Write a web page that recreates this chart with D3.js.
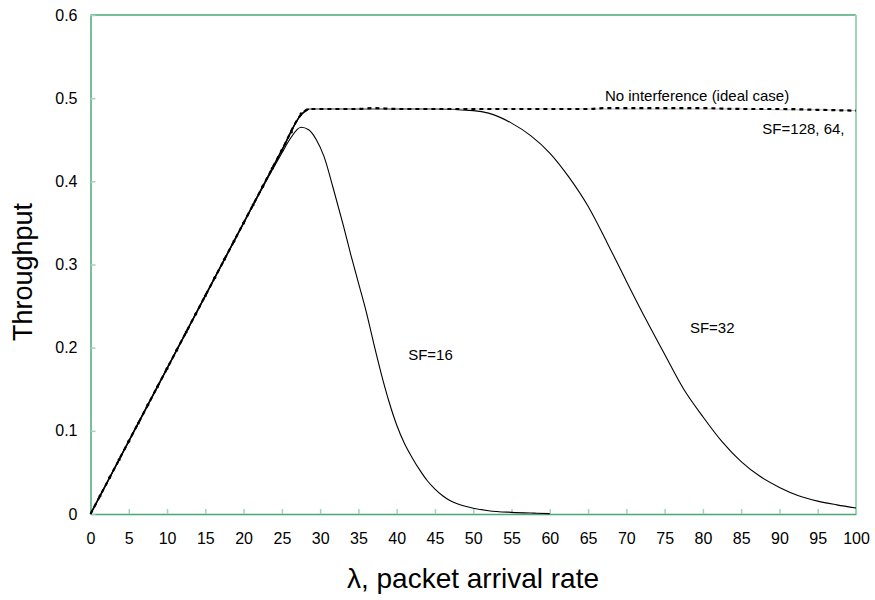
<!DOCTYPE html>
<html>
<head>
<meta charset="utf-8">
<script src="https://cdn.jsdelivr.net/npm/d3@7"></script>
<style>
  body { margin: 0; background: #fff; }
  text { font-family: "Liberation Sans", Arial, sans-serif; fill: #000; }
</style>
</head>
<body>
<svg id="chart" width="875" height="600"></svg>
<script>
// ---- data ----
const xTicks = [0,5,10,15,20,25,30,35,40,45,50,55,60,65,70,75,80,85,90,95,100];
const yTicks = [0,0.1,0.2,0.3,0.4,0.5,0.6];

// Ideal case (no interference) - dotted
const idealX = [0,5,10,15,20,25,27.5,28.5,30,35,37,40,45,50,55,60,65,67,70,75,80,85,90,95,100];
const idealY = [0,0.0875,0.175,0.2625,0.35,0.4375,0.480,0.487,0.487,0.487,0.488,0.487,0.487,0.487,0.487,0.487,0.487,0.488,0.488,0.488,0.488,0.487,0.487,0.486,0.485];

// SF=128, 64 - solid, under the ideal line
const sf128X = [0,5,10,15,20,25,27.5,28.5,30,35,40,45,50,55,60,65,70,75,80,85,90,95,100];
const sf128Y = [0,0.0875,0.175,0.2625,0.35,0.4375,0.480,0.487,0.487,0.487,0.487,0.487,0.487,0.487,0.487,0.487,0.487,0.487,0.487,0.487,0.486,0.486,0.485];

// SF=32
const sf32X = [0,5,10,15,20,25,27.5,28.5,30,35,40,45,50,52,55,57.5,60,62.5,65,67.5,70,72.5,75,77.5,80,82.5,85,87.5,90,92.5,95,97.5,100];
const sf32Y = [0,0.0875,0.175,0.2625,0.35,0.4375,0.480,0.487,0.487,0.487,0.487,0.487,0.485,0.482,0.470,0.455,0.434,0.405,0.370,0.326,0.280,0.235,0.192,0.150,0.117,0.087,0.063,0.045,0.032,0.022,0.0155,0.011,0.0072];

// SF=16
const sf16X = [0,5,10,15,20,24,25,26,27.5,28.5,29.5,30.5,31.7,33,34,35,36,37,38,39,40,41,42,43,44,45,46,47,48,50,52,55,58,60];
const sf16Y = [0,0.0875,0.175,0.2625,0.35,0.418,0.434,0.450,0.465,0.462,0.450,0.430,0.392,0.348,0.312,0.278,0.244,0.205,0.168,0.135,0.107,0.085,0.068,0.053,0.040,0.030,0.022,0.016,0.012,0.007,0.004,0.002,0.001,0.0005];

// markers along the rising part
const markX = [1.25,2.5,3.75,5,6.25,7.5,8.75,10,11.25,12.5,13.75,15,16.25,17.5,18.75,20,21.25,22.5,23.75,25,26.25,27.5];

// ---- layout ----
const svg = d3.select("#chart");
const L = 90.5, R = 856, T = 15, B = 514;
const x = d3.scaleLinear().domain([0,100]).range([L,R]);
const y = d3.scaleLinear().domain([0,0.6]).range([B,T]);

const axisGreen = "#4aa878";
const tickGreen = "#9fd6b8";
const font = "'Liberation Sans', Arial, sans-serif";

// frame
svg.append("line").attr("x1",L).attr("x2",R).attr("y1",T).attr("y2",T).attr("stroke",axisGreen).attr("stroke-width",1.5);
svg.append("line").attr("x1",R).attr("x2",R).attr("y1",T).attr("y2",B).attr("stroke",tickGreen).attr("stroke-width",2);

// x axis
const gx = svg.append("g").attr("transform",`translate(0,${B})`)
  .call(d3.axisBottom(x).tickValues(xTicks).tickFormat(d3.format("d")).tickSizeInner(-5).tickSizeOuter(0).tickPadding(19));
gx.select(".domain").attr("stroke",axisGreen).attr("stroke-width",1.5);
gx.selectAll(".tick line").attr("stroke",tickGreen).attr("stroke-width",1.5);
gx.selectAll("text").style("font-size","16px").style("font-family",font).attr("fill","#000");

// y axis
const gy = svg.append("g").attr("transform",`translate(${L},0)`)
  .call(d3.axisLeft(y).tickValues(yTicks).tickFormat(d => d===0 ? "0" : d3.format(".1f")(d)).tickSizeInner(-5).tickSizeOuter(0).tickPadding(13));
gy.select(".domain").attr("stroke",axisGreen).attr("stroke-width",1.5);
gy.selectAll(".tick line").attr("stroke",tickGreen).attr("stroke-width",1.5);
gy.selectAll("text").style("font-size","16px").style("font-family",font).attr("fill","#000");

// lines
const line = d3.line().x(d => x(d[0])).y(d => y(d[1])).curve(d3.curveMonotoneX);
const zip = (a,b) => a.map((v,i) => [v,b[i]]);

svg.append("path").datum(zip(sf16X,sf16Y)).attr("d",line).attr("fill","none").attr("stroke","#000").attr("stroke-width",1.1);
svg.append("path").datum(zip(sf32X,sf32Y)).attr("d",line).attr("fill","none").attr("stroke","#000").attr("stroke-width",1.1);
svg.append("path").datum(zip(sf128X,sf128Y)).attr("d",line).attr("fill","none").attr("stroke","#b8b8b8").attr("stroke-width",1);
svg.append("path").datum(zip(idealX,idealY)).attr("d",line).attr("fill","none").attr("stroke","#000").attr("stroke-width",2.2).attr("stroke-dasharray","4,4");
// rising part is solid overlap
svg.append("path").datum(zip(idealX.slice(0,8),idealY.slice(0,8))).attr("d",line).attr("fill","none").attr("stroke","#000").attr("stroke-width",1.6);

// small markers on the rising line
svg.append("g").selectAll("circle").data(markX).join("circle")
  .attr("cx", d => x(d)).attr("cy", d => y(Math.min(0.0175*d,0.487))).attr("r",1.5).attr("fill","#000");

// annotations
const ann = [
  {t:"No interference (ideal case)", lx:67.2, ly:0.496, a:"start"},
  {t:"SF=128, 64,", lx:98.5, ly:0.457, a:"end"},
  {t:"SF=32", lx:78.3, ly:0.218, a:"start"},
  {t:"SF=16", lx:41.5, ly:0.185, a:"start"}
];
svg.append("g").selectAll("text").data(ann).join("text")
  .attr("x", d => x(d.lx)).attr("y", d => y(d.ly)).attr("text-anchor", d => d.a)
  .style("font-size","15px").text(d => d.t);

// axis titles
svg.append("text").attr("x",473).attr("y",588).attr("text-anchor","middle").style("font-size","28px")
  .text("λ, packet arrival rate");
svg.append("text").attr("transform",`translate(32,${272}) rotate(-90)`).attr("text-anchor","middle").style("font-size","27px")
  .text("Throughput");
</script>
</body>
</html>
